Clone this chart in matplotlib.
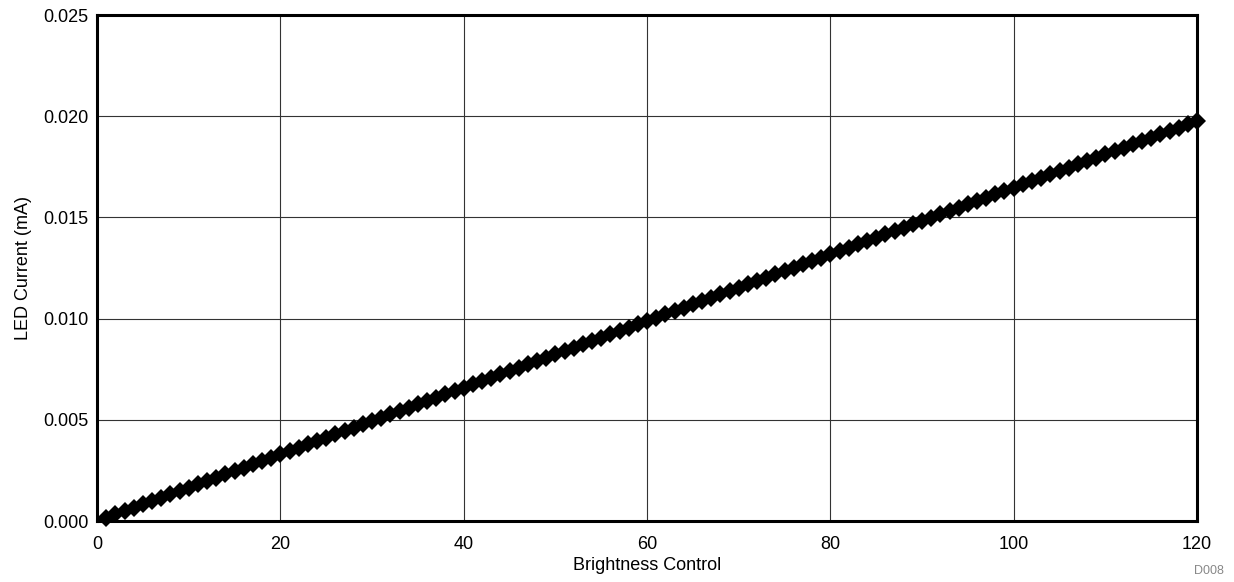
import matplotlib
matplotlib.use("Agg")
import matplotlib.pyplot as plt

brightness = list(range(1, 121))
led_current = [
    0.000165, 0.000329, 0.000494, 0.000659, 0.000824, 0.000988, 0.001153, 0.001318, 0.001482, 0.001647,
    0.001812, 0.001976, 0.002141, 0.002306, 0.002471, 0.002635, 0.002800, 0.002965, 0.003129, 0.003294,
    0.003459, 0.003623, 0.003788, 0.003953, 0.004118, 0.004282, 0.004447, 0.004612, 0.004776, 0.004941,
    0.005106, 0.005270, 0.005435, 0.005600, 0.005765, 0.005929, 0.006094, 0.006259, 0.006423, 0.006588,
    0.006753, 0.006917, 0.007082, 0.007247, 0.007412, 0.007576, 0.007741, 0.007906, 0.008070, 0.008235,
    0.008400, 0.008564, 0.008729, 0.008894, 0.009059, 0.009223, 0.009388, 0.009553, 0.009717, 0.009882,
    0.010047, 0.010211, 0.010376, 0.010541, 0.010706, 0.010870, 0.011035, 0.011200, 0.011364, 0.011529,
    0.011694, 0.011858, 0.012023, 0.012188, 0.012353, 0.012517, 0.012682, 0.012847, 0.013011, 0.013176,
    0.013341, 0.013505, 0.013670, 0.013835, 0.014000, 0.014164, 0.014329, 0.014494, 0.014658, 0.014823,
    0.014988, 0.015152, 0.015317, 0.015482, 0.015647, 0.015811, 0.015976, 0.016141, 0.016305, 0.016470,
    0.016635, 0.016799, 0.016964, 0.017129, 0.017294, 0.017458, 0.017623, 0.017788, 0.017952, 0.018117,
    0.018282, 0.018446, 0.018611, 0.018776, 0.018941, 0.019105, 0.019270, 0.019435, 0.019599, 0.019764,
]
x_ticks = [0, 20, 40, 60, 80, 100, 120]
y_ticks = [0.000, 0.005, 0.010, 0.015, 0.020, 0.025]
y_tick_labels = ["0.000", "0.005", "0.010", "0.015", "0.020", "0.025"]

plt.rcParams['font.family'] = ['Liberation Sans', 'DejaVu Sans']

fig = plt.figure(figsize=(12.34, 5.82), dpi=100)
ax = fig.add_axes([97 / 1234, 1 - 521 / 582, 1100 / 1234, 506 / 582])

ax.plot(brightness, led_current, color='black', linewidth=3, marker='D',
        markersize=9, markeredgewidth=0, clip_on=False, zorder=3)

ax.set_xlim(0, 120)
ax.set_ylim(0, 0.025)
ax.set_xticks(x_ticks)
ax.set_yticks(y_ticks)
ax.set_yticklabels(y_tick_labels)
ax.tick_params(axis='y', length=0, labelsize=13, pad=6)
ax.tick_params(axis='x', length=0, labelsize=13, pad=11)
ax.grid(True, color='#333333', linewidth=0.8)
ax.set_axisbelow(True)
for s in ax.spines.values():
    s.set_linewidth(2.2)
    s.set_color('black')

ax.set_xlabel("Brightness Control", fontsize=13, labelpad=3)
ax.set_ylabel("LED Current (mA)", fontsize=13, labelpad=8)

fig.text(1224 / 1234, 1 - 571 / 582, "D008", color='#888888', fontsize=9,
         ha='right', va='center')

fig.savefig("out.png", dpi=100)
